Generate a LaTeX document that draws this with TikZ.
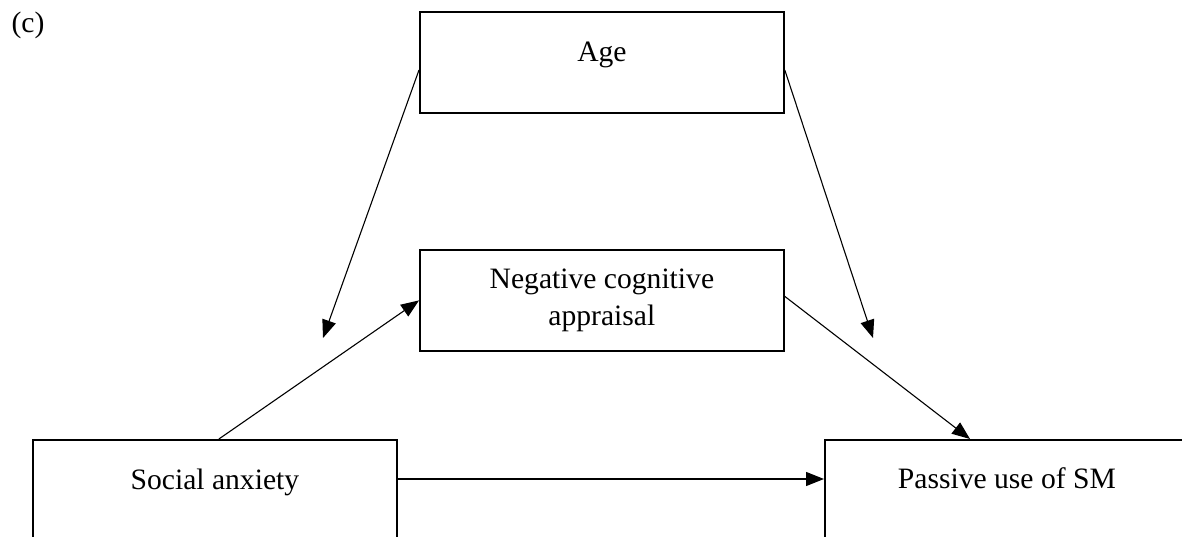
\documentclass[tikz,border=0pt]{standalone}
\usepackage{fontspec}
\setmainfont{Liberation Serif}
\usetikzlibrary{arrows.meta}
\begin{document}
\begin{tikzpicture}[x=1pt,y=-1pt,
        box/.style={draw,line width=1.8pt,inner sep=0pt,align=center,font=\fontsize{29.6}{37}\selectfont},
        link/.style={line width=1.1pt,-{Triangle[length=18pt,width=14pt]}}]
        \useasboundingbox (0,0) rectangle (1182,537);
        \clip (0,0) rectangle (1182,537);
        \node[font=\fontsize{29.6}{37}\selectfont] (tag) at (28,25) {(c)};
        \node[box,anchor=north west,minimum width=364pt,text height=50pt,text depth=51pt] (age) at (419,11) {Age};
        \node[box,anchor=north west,minimum width=364pt,minimum height=101pt] (neg) at (419,249) {Negative cognitive\\appraisal};
        \node[box,anchor=north west,minimum width=364pt,text height=50pt,text depth=120pt] (soc) at (32,439) {Social anxiety};
        \node[box,anchor=north west,minimum width=364pt,text height=49pt,text depth=120pt] (pas) at (824,439) {Passive use of SM};
        \coordinate (ml) at (323,338);
        \coordinate (mr) at (873,338);
        \draw[link] ([yshift=-59pt]age.north west) -- (ml);
        \draw[link] ([yshift=-59pt]age.north east) -- (mr);
        \draw[link] ([xshift=4pt]soc.north) -- (neg.west);
        \draw[link] ([yshift=4pt]neg.east) -- ([xshift=146pt]pas.north west);
        \draw[link] ([yshift=-40pt]soc.north east) -- ([yshift=-40pt]pas.north west);
    \end{tikzpicture}
\end{document}
